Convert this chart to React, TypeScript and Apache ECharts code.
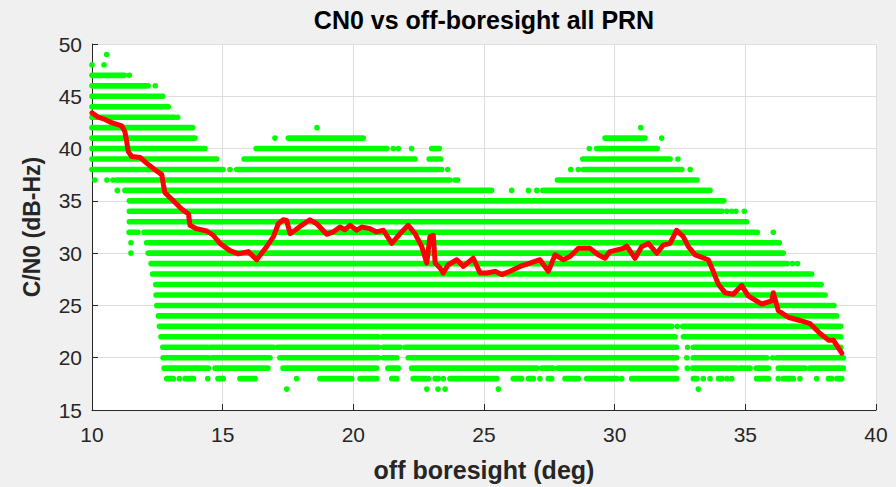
import React, { useEffect, useRef } from "react";
import * as echarts from "echarts";

// Green CN0 samples: each row is an integer C/N0 level (dB-Hz), entries are [xStart, xEnd] runs of off-boresight angle (deg)
const band49: number[][] = [[10.56, 10.56]];
const band48: number[][] = [[10.0, 10.0], [10.46, 10.46]];
const band47: number[][] = [[10.0, 11.24], [11.43, 11.43]];
const band46: number[][] = [[10.0, 12.15], [12.42, 12.42]];
const band45: number[][] = [[10.0, 12.71]];
const band44: number[][] = [[10.0, 12.92]];
const band43: number[][] = [[10.0, 13.15], [13.28, 13.28]];
const band42: number[][] = [[10.0, 13.85], [18.61, 18.61], [31.0, 31.0]];
const band41: number[][] = [[10.0, 13.94], [17.0, 17.0], [17.51, 20.38], [29.63, 31.16], [31.8, 31.8]];
const band40: number[][] = [[10.0, 14.32], [16.28, 21.28], [21.53, 21.53], [21.72, 21.72], [22.23, 22.23], [23.0, 23.29], [29.03, 29.03], [29.31, 31.63]];
const band39: number[][] = [[10.0, 14.77], [15.82, 22.36], [22.9, 23.34], [28.78, 32.12], [32.42, 32.42]];
const band38: number[][] = [[10.0, 15.01], [15.28, 15.28], [15.54, 23.38], [23.61, 23.61], [28.32, 28.32], [28.61, 28.61], [28.8, 32.57], [32.89, 32.89]];
const band37: number[][] = [[10.11, 10.11], [10.57, 10.57], [10.8, 10.8], [10.95, 23.7], [23.89, 23.89], [23.99, 23.99], [27.81, 33.15]];
const band36: number[][] = [[10.97, 10.97], [11.26, 25.29], [26.06, 26.06], [26.7, 26.7], [27.02, 27.02], [27.25, 33.65]];
const band35: number[][] = [[11.43, 34.1], [34.18, 34.18]];
const band34: number[][] = [[11.43, 34.1], [34.29, 34.29], [34.48, 34.48], [34.64, 34.64], [34.96, 34.96]];
const band33: number[][] = [[11.43, 35.05]];
const band32: number[][] = [[11.42, 11.76], [11.99, 35.46], [36.07, 36.07]];
const band31: number[][] = [[11.49, 11.49], [12.09, 36.3]];
const band30: number[][] = [[11.49, 11.49], [12.15, 36.45]];
const band29: number[][] = [[12.26, 36.6], [36.8, 36.8], [37.0, 37.0]];
const band28: number[][] = [[12.32, 37.54]];
const band27: number[][] = [[12.44, 37.9]];
const band26: number[][] = [[12.45, 38.05]];
const band25: number[][] = [[12.48, 38.39]];
const band24: number[][] = [[12.54, 12.86], [12.96, 38.49]];
const band23: number[][] = [[12.58, 32.18], [32.39, 32.39], [32.6, 38.65]];
const band22: number[][] = [[12.64, 20.96], [21.12, 32.31], [32.63, 38.65]];
const band21: number[][] = [[12.71, 14.44], [14.55, 16.94], [17.11, 20.96], [21.15, 21.79], [21.98, 32.37], [32.79, 32.79], [33.01, 38.65]];
const band20: number[][] = [[12.72, 14.44], [14.58, 16.81], [17.19, 20.96], [21.15, 21.66], [22.1, 27.72], [27.81, 32.37], [32.76, 32.76], [33.01, 35.82], [36.05, 36.05], [36.2, 38.75]];
const band19: number[][] = [[12.76, 13.15], [13.2, 13.94], [13.98, 14.45], [14.71, 16.73], [17.31, 20.89], [21.32, 21.72], [22.23, 27.02], [27.21, 27.65], [27.84, 32.35], [32.78, 32.78], [32.99, 34.67], [34.8, 35.18], [35.41, 35.88], [36.26, 37.28], [37.47, 38.75]];
const band18: number[][] = [[12.86, 13.11], [13.34, 13.34], [13.56, 13.88], [14.43, 14.43], [14.82, 15.02], [15.66, 16.24], [17.83, 17.83], [18.72, 19.94], [20.26, 20.89], [21.47, 21.66], [22.29, 22.87], [23.13, 23.25], [23.44, 23.44], [23.7, 25.49], [26.12, 26.44], [26.7, 26.89], [27.14, 27.14], [27.46, 27.59], [28.1, 28.61], [28.93, 30.08], [30.27, 30.27], [30.65, 32.37], [33.01, 33.14], [33.39, 33.39], [33.65, 33.65], [33.97, 34.1], [34.29, 34.29], [34.48, 34.48], [35.43, 35.88], [36.26, 36.26], [36.45, 36.84], [37.09, 37.09], [37.73, 37.73], [38.18, 38.3], [38.5, 38.69]];
const band17: number[][] = [[17.45, 17.45], [22.81, 22.81], [23.24, 23.24], [23.51, 23.51], [25.55, 25.55], [33.2, 33.2]];

const bandLevels = [49, 48, 47, 46, 45, 44, 43, 42, 41, 40, 39, 38, 37, 36, 35, 34, 33, 32, 31, 30, 29, 28, 27, 26, 25, 24, 23, 22, 21, 20, 19, 18, 17];
const bandRuns = [band49, band48, band47, band46, band45, band44, band43, band42, band41, band40, band39, band38, band37, band36, band35, band34, band33, band32, band31, band30, band29, band28, band27, band26, band25, band24, band23, band22, band21, band20, band19, band18, band17];

// Red mean curve: [off-boresight (deg), C/N0 (dB-Hz)]
const meanX = [10.0, 10.24, 10.5, 10.75, 11.14, 11.26, 11.33, 11.39, 11.52, 11.84, 12.09, 12.41, 12.67, 12.73, 12.79, 13.11, 13.43, 13.69, 13.75, 14.0, 14.39, 14.64, 14.9, 15.28, 15.6, 15.98, 16.17, 16.3, 16.49, 16.68, 16.94, 17.13, 17.32, 17.45, 17.58, 17.77, 18.02, 18.34, 18.6, 18.98, 19.23, 19.49, 19.68, 19.87, 20.13, 20.32, 20.64, 20.89, 21.15, 21.47, 21.79, 22.1, 22.36, 22.62, 22.81, 22.93, 23.06, 23.13, 23.32, 23.44, 23.63, 23.96, 24.21, 24.59, 24.85, 25.1, 25.42, 25.68, 25.99, 26.38, 26.76, 27.14, 27.46, 27.72, 28.03, 28.29, 28.61, 29.06, 29.37, 29.63, 29.82, 30.33, 30.46, 30.78, 31.03, 31.29, 31.61, 31.86, 32.12, 32.37, 32.63, 32.82, 33.08, 33.58, 33.77, 33.97, 34.22, 34.54, 34.86, 35.11, 35.63, 36.01, 36.07, 36.26, 36.64, 37.09, 37.48, 37.86, 38.18, 38.37, 38.69];
const meanY = [43.41, 43.0, 42.78, 42.47, 42.16, 41.6, 40.65, 39.71, 39.24, 39.15, 38.61, 37.98, 37.51, 36.57, 35.79, 35.01, 34.22, 33.75, 32.66, 32.34, 32.12, 31.71, 30.93, 30.24, 29.93, 30.15, 29.68, 29.37, 29.99, 30.62, 31.56, 32.81, 33.19, 33.12, 31.87, 32.19, 32.66, 33.19, 32.81, 31.8, 32.03, 32.5, 32.24, 32.66, 32.19, 32.5, 32.34, 32.03, 32.19, 30.93, 31.87, 32.66, 31.87, 30.62, 29.05, 31.56, 31.71, 29.05, 28.58, 28.1, 28.89, 29.37, 28.73, 29.51, 28.1, 28.1, 28.26, 27.95, 28.26, 28.73, 29.05, 29.37, 28.26, 29.84, 29.37, 29.68, 30.46, 30.46, 29.84, 29.51, 30.15, 30.46, 30.68, 29.51, 30.62, 30.93, 29.99, 30.77, 30.93, 32.19, 31.56, 30.62, 29.84, 29.37, 28.26, 27.01, 26.22, 26.07, 26.92, 25.91, 25.13, 25.44, 26.22, 24.5, 23.87, 23.56, 23.25, 22.31, 21.68, 21.68, 20.43];

const titleText = "CN0 vs off-boresight all PRN";
const xName = "off boresight (deg)";
const yName = "C/N0 (dB-Hz)";

export default function App() {
  const ref = useRef<HTMLDivElement>(null);
  useEffect(() => {
    if (!ref.current) return;
    const chart = echarts.init(ref.current, undefined, { renderer: "svg" });
    const segData: number[][] = [];
    bandLevels.forEach((lv, i) => {
      bandRuns[i].forEach((r) => segData.push([r[0], r[1], lv]));
    });
    const meanData = meanX.map((x, i) => [x, meanY[i]]);
    const axisColor = "#262626";
    const font = "'Liberation Sans', Arial, Helvetica, sans-serif";
    chart.setOption({
      animation: false,
      backgroundColor: "#f0f0f0",
      grid: { left: 92, right: 20, top: 44, bottom: 71, show: true, backgroundColor: "#ffffff", borderWidth: 0 },
      graphic: [
        {
          type: "text",
          x: 484,
          y: 20,
          style: {
            text: titleText,
            font: `bold 25px ${font}`,
            fill: "#000000",
            align: "center",
            verticalAlign: "middle",
            textAlign: "center",
            textVerticalAlign: "middle",
          },
        },
      ],
      xAxis: {
        type: "value",
        min: 10,
        max: 40,
        interval: 5,
        name: xName,
        nameLocation: "middle",
        nameGap: 47,
        nameTextStyle: { fontFamily: font, fontSize: 25, fontWeight: "bold", color: axisColor },
        axisLine: { show: true, onZero: false, lineStyle: { color: axisColor, width: 1 } },
        axisTick: { show: true, inside: true, length: 6, lineStyle: { color: axisColor } },
        axisLabel: { color: axisColor, fontSize: 21, fontFamily: font, margin: 14 },
        splitLine: { show: true, lineStyle: { color: "#dedede", width: 1 } },
      },
      yAxis: {
        type: "value",
        min: 15,
        max: 50,
        interval: 5,
        name: yName,
        nameLocation: "middle",
        nameGap: 49,
        nameTextStyle: { fontFamily: font, fontSize: 23, fontWeight: "bold", color: axisColor },
        axisLine: { show: true, onZero: false, lineStyle: { color: axisColor, width: 1 } },
        axisTick: { show: true, inside: true, length: 6, lineStyle: { color: axisColor } },
        axisLabel: { color: axisColor, fontSize: 21, fontFamily: font, margin: 10 },
        splitLine: { show: true, lineStyle: { color: "#dedede", width: 1 } },
      },
      series: [
        {
          type: "custom",
          name: "samples",
          data: segData,
          encode: { x: [0, 1], y: 2 },
          renderItem: (params: any, api: any) => {
            const y = api.value(2);
            const p0 = api.coord([api.value(0), y]);
            const p1 = api.coord([api.value(1), y]);
            const h = 5.6;
            return {
              type: "rect",
              shape: { x: p0[0] - h / 2, y: p0[1] - h / 2, width: p1[0] - p0[0] + h, height: h, r: h / 2 },
              style: { fill: "#00ff00" },
            };
          },
          z: 2,
        },
        {
          type: "line",
          name: "mean",
          data: meanData,
          showSymbol: false,
          symbol: "none",
          lineStyle: { color: "#ff0000", width: 5, join: "round", cap: "round" },
          z: 3,
        },
      ],
    });
    return () => chart.dispose();
  }, []);
  return <div ref={ref} style={{ position: "fixed", left: 0, top: 0, width: 896, height: 487 }} />;
}
